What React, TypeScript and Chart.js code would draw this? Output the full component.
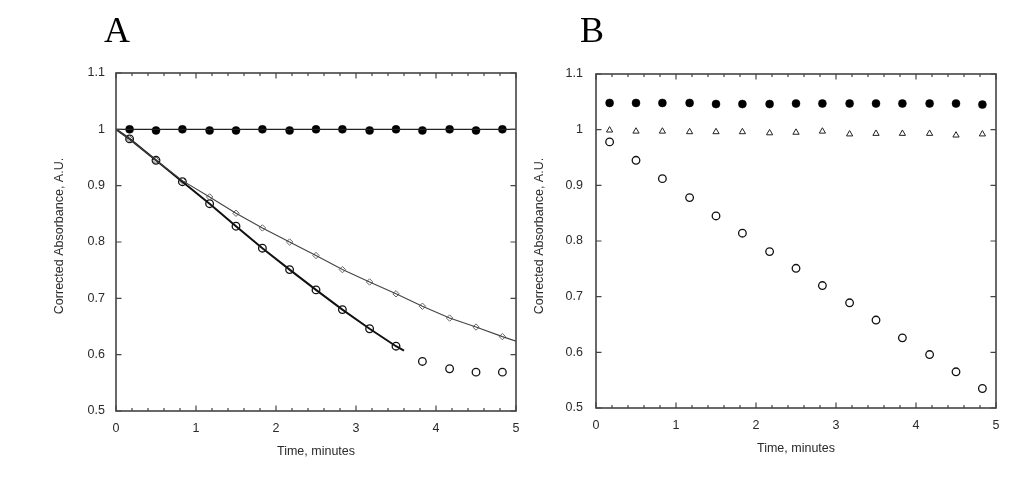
import React, { useEffect, useRef } from "react";
import { Chart, registerables } from "chart.js";

Chart.register(...registerables);

// ---------- data ----------
const times = [0.17, 0.5, 0.83, 1.17, 1.5, 1.83, 2.17, 2.5, 2.83, 3.17, 3.5, 3.83, 4.17, 4.5, 4.83];

// Panel A
const aFilled = [1.0, 0.998, 1.0, 0.998, 0.998, 1.0, 0.998, 1.0, 1.0, 0.998, 1.0, 0.998, 1.0, 0.998, 1.0];
const aOpen = [0.983, 0.945, 0.907, 0.868, 0.828, 0.789, 0.751, 0.715, 0.68, 0.646, 0.615, 0.588, 0.575, 0.569, 0.569];
const aDiamond = [0.983, 0.945, 0.909, 0.88, 0.851, 0.825, 0.8, 0.776, 0.751, 0.729, 0.708, 0.686, 0.665, 0.649, 0.632];
const aFlatLineX = [0, 5];
const aFlatLineY = [1, 1];
const aOpenFitX = [0, 0.17, 0.5, 0.83, 1.17, 1.5, 1.83, 2.17, 2.5, 2.83, 3.17, 3.5, 3.6];
const aOpenFitY = [1, 0.983, 0.945, 0.907, 0.868, 0.828, 0.789, 0.751, 0.715, 0.68, 0.646, 0.615, 0.607];
const aDiamondFitX = [0, 0.17, 0.5, 0.83, 1.17, 1.5, 1.83, 2.17, 2.5, 2.83, 3.17, 3.5, 3.83, 4.17, 4.5, 4.83, 5];
const aDiamondFitY = [1, 0.983, 0.945, 0.909, 0.88, 0.851, 0.825, 0.8, 0.776, 0.751, 0.729, 0.708, 0.686, 0.665, 0.649, 0.632, 0.624];

// Panel B
const bFilled = [1.048, 1.048, 1.048, 1.048, 1.046, 1.046, 1.046, 1.047, 1.047, 1.047, 1.047, 1.047, 1.047, 1.047, 1.045];
const bTriangle = [0.999, 0.997, 0.997, 0.996, 0.996, 0.996, 0.994, 0.995, 0.997, 0.992, 0.993, 0.993, 0.993, 0.99, 0.992];
const bOpen = [0.978, 0.945, 0.912, 0.878, 0.845, 0.814, 0.781, 0.751, 0.72, 0.689, 0.658, 0.626, 0.596, 0.565, 0.535];

// axes
const xMin = 0;
const xMax = 5;
const yMin = 0.5;
const yMax = 1.1;
const xTitle = "Time, minutes";
const yTitle = "Corrected Absorbance, A.U.";
const panelLabels = ["A", "B"];

// ---------- helpers ----------
const pts = (xs: number[], ys: number[]) => xs.map((x, i) => ({ x, y: ys[i] }));

const FONT = '"Liberation Sans", Arial, Helvetica, sans-serif';
const AXIS = "#444";
const TEXT = "#2a2a2a";

const framePlugin = {
  id: "frameTicks",
  afterDraw(chart: any, _args: any, opts: any) {
    const { ctx, chartArea, scales } = chart;
    const { left, right, top, bottom } = chartArea;
    const xs = scales.x;
    const ys = scales.y;
    ctx.save();
    ctx.strokeStyle = AXIS;
    ctx.lineWidth = 1.6;
    ctx.strokeRect(left, top, right - left, bottom - top);
    ctx.lineWidth = 1.2;
    ctx.beginPath();
    for (let i = 0; i <= 25; i++) {
      const v = xMin + i * 0.2;
      const px = xs.getPixelForValue(v);
      const len = i % 5 === 0 ? 5.5 : 3;
      ctx.moveTo(px, bottom);
      ctx.lineTo(px, bottom - len);
      ctx.moveTo(px, top);
      ctx.lineTo(px, top + len);
    }
    for (let i = 0; i <= 6; i++) {
      const v = yMin + i * 0.1;
      const py = ys.getPixelForValue(v);
      ctx.moveTo(left, py);
      ctx.lineTo(left + 5.5, py);
      ctx.moveTo(right, py);
      ctx.lineTo(right - 5.5, py);
    }
    ctx.stroke();
    // y-axis title
    ctx.translate(opts.titleX, opts.titleY);
    ctx.rotate(-Math.PI / 2);
    ctx.font = `12.5px ${FONT}`;
    ctx.fillStyle = TEXT;
    ctx.textAlign = "center";
    ctx.textBaseline = "middle";
    ctx.fillText(yTitle, 0, 0);
    ctx.restore();
  },
};

function makeOptions(padTop: number, xHeight: number, yPad: number, titlePad: number) {
  return {
    responsive: true,
    maintainAspectRatio: false,
    animation: false,
    layout: { padding: { top: padTop, right: 24, left: 0, bottom: 0 } },
    plugins: {
      legend: { display: false },
      tooltip: { enabled: false },
      frameTicks: { titleX: 60, titleY: 236 },
    },
    scales: {
      x: {
        type: "linear",
        min: xMin,
        max: xMax,
        grid: { display: false, drawTicks: false },
        border: { display: false },
        ticks: {
          stepSize: 1,
          padding: 10,
          color: TEXT,
          font: { size: 12.5, family: FONT },
          maxRotation: 0,
          callback: (v: number) => String(Number(v.toFixed(1))),
        },
        title: {
          display: true,
          text: xTitle,
          color: TEXT,
          font: { size: 12.5, family: FONT },
          padding: { top: 0, bottom: titlePad },
        },
        afterFit: (s: any) => {
          s.height = xHeight;
        },
      },
      y: {
        type: "linear",
        min: yMin,
        max: yMax,
        grid: { display: false, drawTicks: false },
        border: { display: false },
        ticks: {
          stepSize: 0.1,
          padding: yPad,
          color: TEXT,
          font: { size: 12.5, family: FONT },
          callback: (v: number) => String(Number(v.toFixed(2))),
        },
        afterFit: (s: any) => {
          s.width = 116;
        },
      },
    },
  };
}

const configA = () => ({
  type: "scatter",
  data: {
    datasets: [
      {
        data: pts(aFlatLineX, aFlatLineY),
        showLine: true,
        borderColor: "#222",
        borderWidth: 1.3,
        pointRadius: 0,
      },
      {
        data: pts(aDiamondFitX, aDiamondFitY),
        showLine: true,
        borderColor: "#444",
        borderWidth: 1.1,
        pointRadius: 0,
      },
      {
        data: pts(aOpenFitX, aOpenFitY),
        showLine: true,
        borderColor: "#111",
        borderWidth: 2,
        pointRadius: 0,
      },
      {
        data: pts(times, aDiamond),
        pointStyle: "rectRot",
        pointRadius: 3.2,
        borderColor: "#666",
        borderWidth: 1,
        backgroundColor: "rgba(0,0,0,0)",
      },
      {
        data: pts(times, aOpen),
        pointStyle: "circle",
        pointRadius: 3.8,
        borderColor: "#111",
        borderWidth: 1.3,
        backgroundColor: "rgba(0,0,0,0)",
      },
      {
        data: pts(times, aFilled),
        pointStyle: "circle",
        pointRadius: 4,
        borderColor: "#000",
        borderWidth: 0.5,
        backgroundColor: "#000",
      },
    ],
  },
  options: makeOptions(73, 69, 11, 20.5),
  plugins: [framePlugin],
});

const configB = () => ({
  type: "scatter",
  data: {
    datasets: [
      {
        data: pts(times, bFilled),
        pointStyle: "circle",
        pointRadius: 4,
        borderColor: "#000",
        borderWidth: 0.5,
        backgroundColor: "#000",
      },
      {
        data: pts(times, bTriangle),
        pointStyle: "triangle",
        pointRadius: 3.6,
        borderColor: "#222",
        borderWidth: 1,
        backgroundColor: "rgba(0,0,0,0)",
      },
      {
        data: pts(times, bOpen),
        pointStyle: "circle",
        pointRadius: 3.8,
        borderColor: "#111",
        borderWidth: 1.3,
        backgroundColor: "rgba(0,0,0,0)",
      },
    ],
  },
  options: makeOptions(74, 72, 13, 23.5),
  plugins: [framePlugin],
});

function Panel({ left, make }: { left: number; make: () => any }) {
  const ref = useRef<HTMLCanvasElement | null>(null);
  useEffect(() => {
    if (!ref.current) return;
    const chart = new Chart(ref.current, make());
    return () => chart.destroy();
  }, [make]);
  return (
    <div style={{ position: "absolute", left, top: 0, width: 540, height: 480 }}>
      <canvas ref={ref} />
    </div>
  );
}

const labelStyle = {
  position: "absolute" as const,
  top: 12,
  fontFamily: '"Liberation Serif", "Times New Roman", serif',
  fontSize: 36,
  lineHeight: "36px",
  color: "#000",
};

export default function App() {
  return (
    <div
      style={{
        position: "fixed",
        left: 0,
        top: 0,
        width: 1020,
        height: 480,
        background: "#fff",
        overflow: "hidden",
      }}
    >
      <Panel left={0} make={configA} />
      <Panel left={480} make={configB} />
      <div style={{ ...labelStyle, left: 104 }}>{panelLabels[0]}</div>
      <div style={{ ...labelStyle, left: 580 }}>{panelLabels[1]}</div>
    </div>
  );
}
